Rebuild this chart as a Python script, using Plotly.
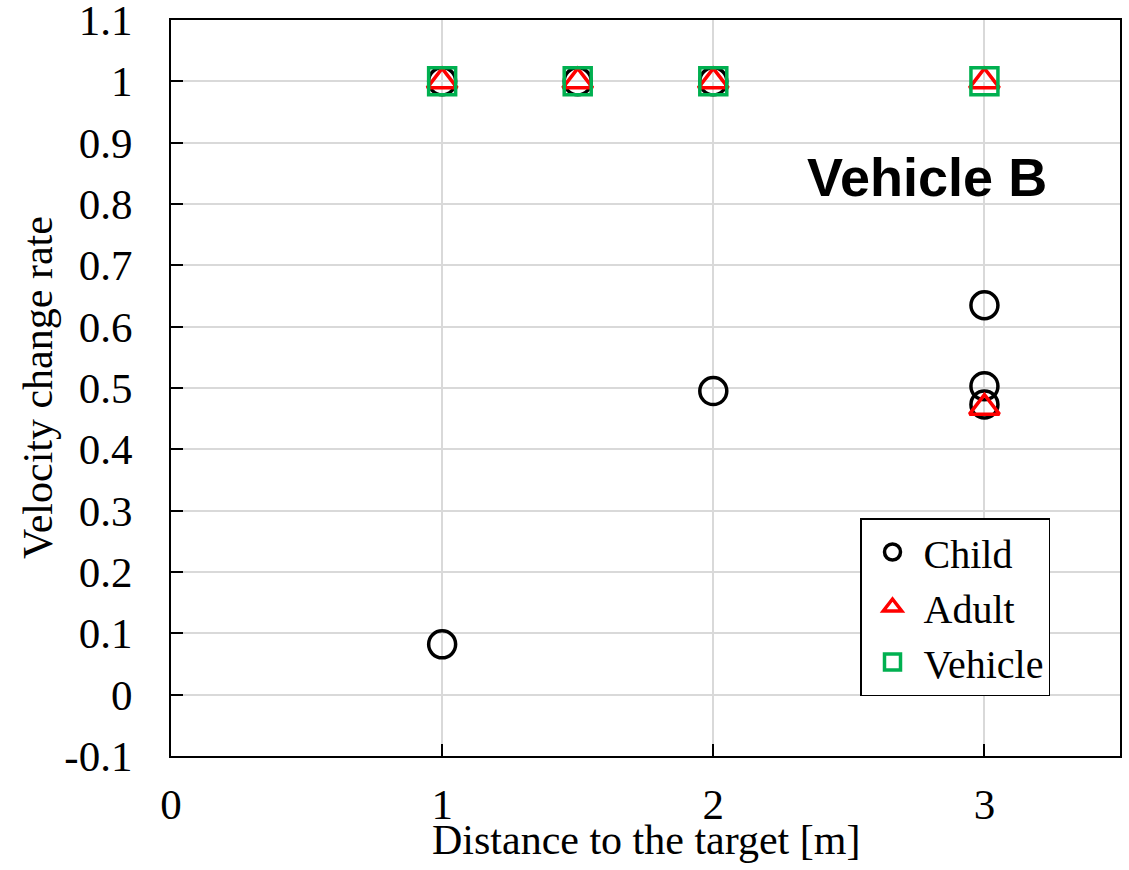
import plotly.graph_objects as go

child_x = [1, 1, 1.5, 2, 2, 3, 3, 3]
child_y = [1.0, 0.082, 1.0, 1.0, 0.495, 0.635, 0.503, 0.473]
adult_x = [1, 1.5, 2, 3, 3]
adult_y = [1.0, 1.0, 1.0, 1.0, 0.468]
vehicle_x = [1, 1.5, 2, 3]
vehicle_y = [1.0, 1.0, 1.0, 1.0]

y_ticks = [-0.1, 0, 0.1, 0.2, 0.3, 0.4, 0.5, 0.6, 0.7, 0.8, 0.9, 1, 1.1]
y_ticktext = ["-0.1", "0", "0.1", "0.2", "0.3", "0.4", "0.5", "0.6", "0.7", "0.8", "0.9", "1", "1.1"]
x_ticks = [0, 1, 2, 3]
x_ticktext = ["0", "1", "2", "3"]

FONT = "Liberation Serif"
TICK_FS = 43
TITLE_FS = 42

fig = go.Figure()
fig.add_trace(go.Scatter(x=child_x, y=child_y, mode="markers", name="Child",
                         marker=dict(symbol="circle-open", size=27, color="black",
                                     line=dict(width=3.5, color="black"))))
fig.add_trace(go.Scatter(x=adult_x, y=adult_y, mode="markers", name="Adult",
                         marker=dict(symbol="triangle-up-open", size=26, color="#ff0000",
                                     line=dict(width=3.5, color="#ff0000"))))
fig.add_trace(go.Scatter(x=vehicle_x, y=vehicle_y, mode="markers", name="Vehicle",
                         marker=dict(symbol="square-open", size=27, color="#00b050",
                                     line=dict(width=3.5, color="#00b050"))))

fig.add_annotation(text="<b>Vehicle B</b>", x=(927 - 171) / 949, y=(756 - 177) / 736,
                   xref="paper", yref="paper", xanchor="center", yanchor="middle",
                   showarrow=False, font=dict(family="Liberation Sans", size=54, color="black"))
fig.add_annotation(text="Distance to the target [m]", x=0.5, y=(756 - 840) / 736,
                   xref="paper", yref="paper", xanchor="center", yanchor="middle",
                   showarrow=False, font=dict(family=FONT, size=TITLE_FS, color="black"))
fig.add_annotation(text="Velocity change rate", x=(38 - 171) / 949, y=(756 - 388) / 736,
                   xref="paper", yref="paper", xanchor="center", yanchor="middle", textangle=-90,
                   showarrow=False, font=dict(family=FONT, size=TITLE_FS, color="black"))

fig.update_layout(
    width=1129, height=870, autosize=False,
    margin=dict(l=171, r=9, t=20, b=114),
    paper_bgcolor="white", plot_bgcolor="white",
    font=dict(family=FONT, size=TICK_FS, color="black"),
    showlegend=True,
    legend=dict(x=(860 - 171) / 949, y=(756 - 518) / 736, xanchor="left", yanchor="top",
                bordercolor="black", borderwidth=1.5, bgcolor="white",
                font=dict(family=FONT, size=40), itemwidth=52,
                tracegroupgap=0),
    xaxis=dict(range=[0, 3.5], tickvals=x_ticks, ticktext=x_ticktext,
               showgrid=True, gridcolor="#d9d9d9", gridwidth=2,
               showline=True, linecolor="black", linewidth=2, mirror=True,
               ticks="inside", ticklen=12, tickwidth=2, tickcolor="black",
               zeroline=False, ticklabelstandoff=9, automargin=False,
               ticklabeloverflow="allow"),
    yaxis=dict(range=[-0.1, 1.1], tickvals=y_ticks, ticktext=y_ticktext,
               showgrid=True, gridcolor="#d9d9d9", gridwidth=2,
               showline=True, linecolor="black", linewidth=2, mirror=True,
               ticks="inside", ticklen=12, tickwidth=2, tickcolor="black",
               zeroline=False, ticklabelstandoff=28, automargin=False,
               ticklabeloverflow="allow"),
)

fig.write_html("out.html", config={"displayModeBar": False},
               post_script="document.body.style.margin='0';document.body.style.overflow='hidden';")
